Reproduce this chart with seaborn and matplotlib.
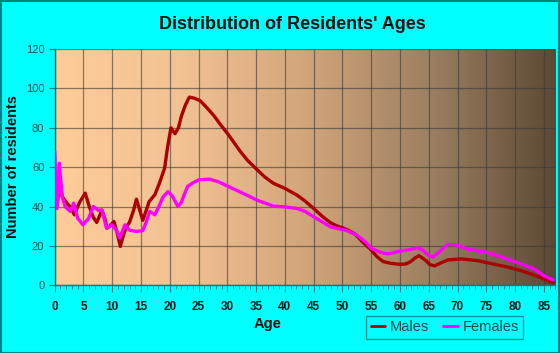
import numpy as np
import pandas as pd
import matplotlib
matplotlib.use('Agg')
import matplotlib.pyplot as plt
from matplotlib.colors import LinearSegmentedColormap
from matplotlib.ticker import MultipleLocator
import seaborn as sns

# Dữ liệu
ages_m = [0, 0.4, 0.9, 1.3, 2.1, 2.8, 3.4, 4.3, 5.3, 6, 6.7, 7.3, 8.2, 8.7, 9.1, 9.7, 10.3,
          10.9, 11.4, 12, 12.5, 13, 13.7, 14.2, 14.8, 15.3, 15.9, 16.4, 17.4, 18.2, 19.1,
          19.6, 20.2, 20.9, 21.5, 22, 22.7, 23.4, 24.3, 25.3, 26.5, 27.6, 28.7, 30,
          32.3, 33.5, 35.1, 36.5, 38, 39, 40, 42.1, 43.5, 45, 46.5, 47.9, 49, 50, 51,
          52.2, 53.5, 55, 56, 57.1, 58.3, 60, 61, 61.8, 62.6, 63.3, 64.4, 65.2, 66, 67,
          68.3, 70.6, 73.5, 77, 79, 81.1, 84, 86.6]
males = [55, 40, 52.7, 45, 41.7, 39.5, 35.8, 42, 46.8, 40, 34.5, 31.9, 38, 34, 29, 30.5, 32.4,
         26, 19.7, 26, 29.8, 32, 38, 43.7, 38, 33, 38, 42.5, 46, 51.9, 59.5,
         70, 80, 77, 80, 85.8, 91.5, 95.6, 95, 93.7, 90, 86.4, 82, 77.2,
         67.8, 63.5, 58.9, 55, 51.8, 50.5, 49.2, 45.8, 42.8, 39, 35, 31.8, 30.2, 29.2, 28,
         26, 22, 17.9, 14.5, 12, 11.2, 10.6, 10.8, 11.9, 13.8, 15, 12.8, 10.5, 9.8, 11.2,
         12.8, 13.4, 12.5, 10.3, 9, 7.4, 4.4, 1.3]

ages_f = [0, 0.4, 0.8, 1.3, 1.8, 2.7, 3.3, 4, 4.9, 5.9, 6.7, 7.6, 8.2, 9, 9.9, 10.7, 11.3,
          12.2, 13, 14.2, 15.3, 15.9, 16.5, 17.4, 18.1, 18.8, 19.7, 20.5, 21.4, 22, 22.5,
          23.1, 24, 25.1, 26.9, 28.5, 30, 32.5, 35.1, 38, 40, 42.1, 43.5, 45, 47.9, 50.8,
          52.5, 54, 55, 56.5, 57.9, 60, 61.3, 63.1, 63.9, 64.8, 65.7, 66.9, 68.3, 69.8,
          71.8, 75.3, 78.2, 81.1, 83.4, 85.1, 86.6]
females = [68, 39, 62, 45, 40, 37.5, 41.7, 34, 30.7, 34, 40, 38, 38.3, 29, 30.7, 28, 24,
           30.7, 28, 27.3, 27.8, 32, 37.5, 35.8, 40, 44.7, 47.6, 45, 40, 42, 46,
           50.2, 52, 53.6, 53.9, 52.5, 50.4, 47, 43.3, 40.2, 39.8, 39, 37.5, 34.8, 29.7, 27.7,
           25.5, 22, 18.8, 16.8, 15.9, 17.4, 17.9, 19.1, 17.9, 15.5, 14.2, 17.1, 20.8, 20.5,
           18.3, 16.6, 13.7, 10.8, 8.1, 4.7, 2.7]

df = pd.concat([
    pd.DataFrame({'Age': ages_m, 'Count': males, 'Sex': 'Males'}),
    pd.DataFrame({'Age': ages_f, 'Count': females, 'Sex': 'Females'}),
])

CYAN = '#00FFFF'
TEAL = '#008080'

sns.set_style('white')
plt.rcParams['font.family'] = ['Liberation Sans', 'DejaVu Sans']

fig = plt.figure(figsize=(5.6, 3.53), dpi=100, facecolor=CYAN)
ax = fig.add_axes([0.0977, 0.192, 0.894, 0.669])

# ── Nền gradient ──
cmap = LinearSegmentedColormap.from_list('bg', ['#FFCC99', '#F2C293', '#D2A57A', '#9C8061', '#5C4935'])
grad = np.linspace(0, 1, 256).reshape(1, -1)
ax.imshow(grad, cmap=cmap, aspect='auto', extent=[0, 87, 0, 120], zorder=0)

sns.lineplot(data=df, x='Age', y='Count', hue='Sex', sort=False,
             palette={'Males': '#AA0000', 'Females': '#FF00FF'},
             hue_order=['Males', 'Females'], linewidth=2.4, ax=ax, zorder=3)

ax.set_xlim(0, 87)
ax.set_ylim(0, 120)
ax.xaxis.set_major_locator(MultipleLocator(5))
ax.xaxis.set_minor_locator(MultipleLocator(1))
ax.yaxis.set_major_locator(MultipleLocator(20))
ax.grid(True, which='major', color='#3a3a3a', alpha=0.6, linewidth=0.9, zorder=1)
ax.set_axisbelow(False)

for s in ['top', 'right']:
    ax.spines[s].set_visible(False)
for s in ['left', 'bottom']:
    ax.spines[s].set_color(TEAL)
    ax.spines[s].set_linewidth(1)

ax.tick_params(axis='x', which='major', length=5, color=TEAL, direction='out',
               labelsize=8.5, labelcolor='#0a1a1a', pad=6, bottom=True)
ax.tick_params(axis='x', which='minor', length=3, color=TEAL, direction='out', bottom=True)
ax.tick_params(axis='y', which='major', length=4, color=TEAL, direction='out',
               labelsize=8, labelcolor='#1a5050', left=True)
for lbl in ax.get_xticklabels():
    lbl.set_fontweight('bold')

ax.set_xlabel('')
ax.set_ylabel('')
fig.text(0.522, 0.932, "Distribution of Residents' Ages", ha='center', va='center',
         fontsize=13, fontweight='bold', color='#101010')
fig.text(0.024, 0.527, 'Number of residents', rotation=90, ha='center', va='center',
         fontsize=10.5, fontweight='bold', color='#101010')
fig.text(0.477, 0.082, 'Age', ha='center', va='center',
         fontsize=10.5, fontweight='bold', color='#101010')

leg = ax.legend(loc='center', bbox_to_anchor=(0.794, 0.073), bbox_transform=fig.transFigure,
                ncol=2, frameon=True, fancybox=False, fontsize=10.5, handlelength=1.0,
                handletextpad=0.3, columnspacing=1.0, borderpad=0.3, title=None)
leg.get_frame().set_edgecolor(TEAL)
leg.get_frame().set_facecolor(CYAN)
leg.get_frame().set_linewidth(1)
for t in leg.get_texts():
    t.set_color('#0e4848')
for h in leg.get_lines():
    h.set_linewidth(2)

# Khung ngoài
fig.add_artist(plt.Rectangle((0.001, 0.001), 0.997, 0.997, transform=fig.transFigure,
                             fill=False, edgecolor=TEAL, linewidth=1.5))

plt.savefig('out.png', dpi=100, facecolor=CYAN)
